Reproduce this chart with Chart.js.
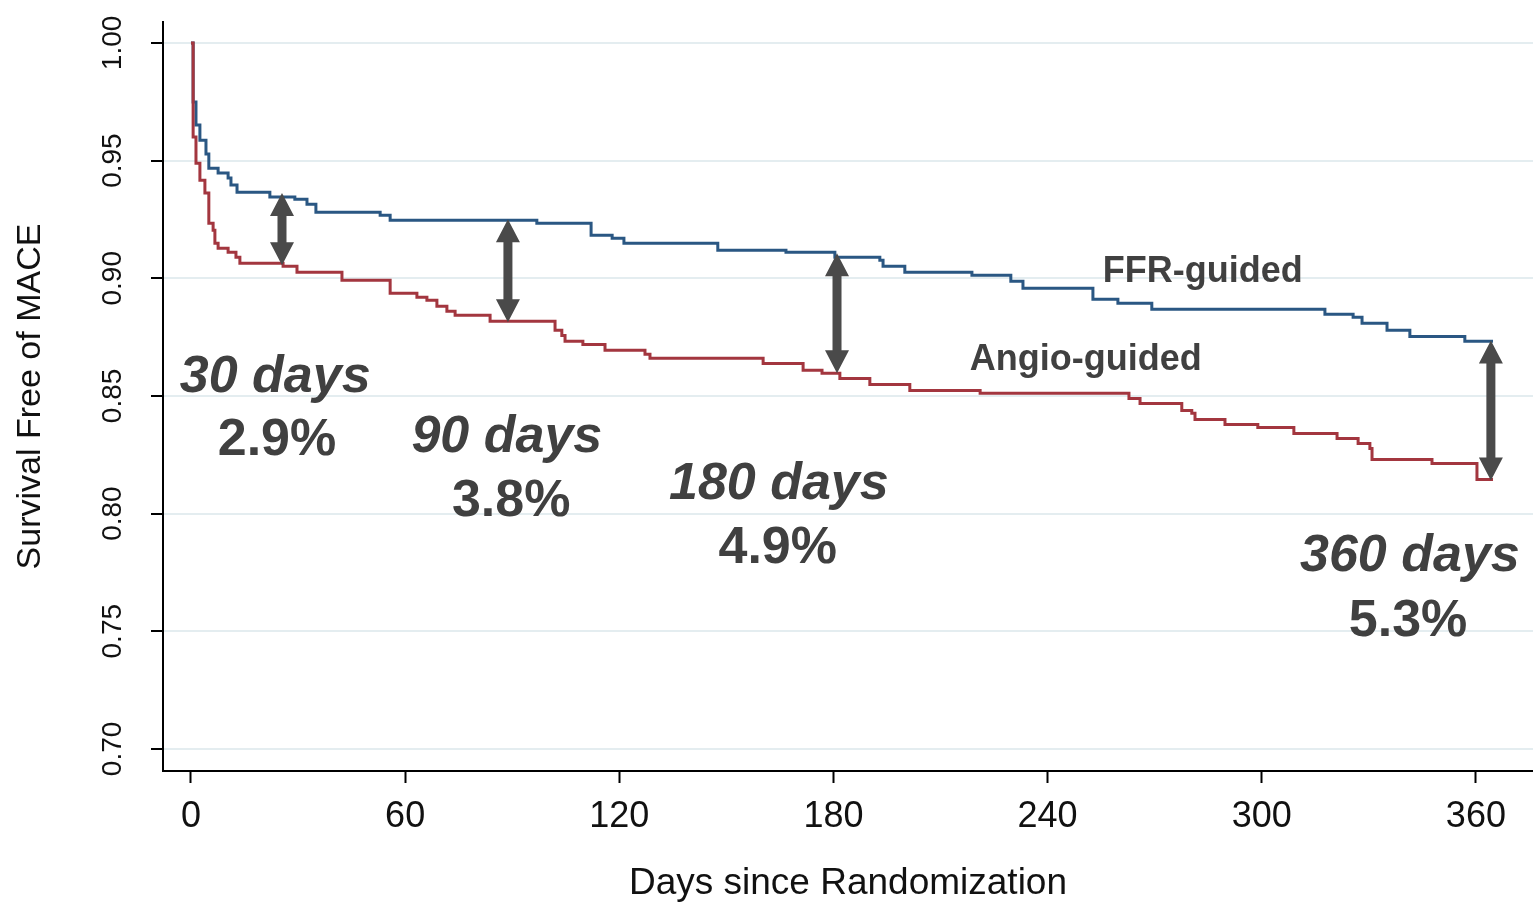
<!DOCTYPE html>
<html>
<head>
<meta charset="utf-8">
<title>Survival Free of MACE</title>
<script src="https://cdn.jsdelivr.net/npm/chart.js@4.4.1/dist/chart.umd.min.js"></script>
<style>
  html, body { margin: 0; padding: 0; background: #fff; }
  canvas { display: block; }
</style>
</head>
<body>
<canvas id="kmChart" width="1533" height="903"></canvas>
<script>
// === Data ===
const xTicks = [0, 60, 120, 180, 240, 300, 360];
const yTicks = [0.70, 0.75, 0.80, 0.85, 0.90, 0.95, 1.00];

// FFR-guided: day of each step, survival after the step
const ffrDays = [0, 0.6, 1.4, 2.5, 4.2, 5.0, 7.6, 10.4, 11.2, 12.9, 22.1, 29.1, 32.5, 35.0, 53.0, 55.8,
  96.9, 112.1, 118.0, 121.3, 147.6, 166.7, 180.4, 193.0, 193.9, 200.0, 218.8, 229.7, 233.1, 252.7,
  259.7, 269.2, 317.7, 325.6, 328.1, 335.1, 341.5, 356.9, 364.8];
const ffrSurv = [1.0000, 0.9749, 0.9651, 0.9587, 0.9528, 0.9468, 0.9447, 0.9426, 0.9396, 0.9366, 0.9345,
  0.9336, 0.9315, 0.9281, 0.9268, 0.9247, 0.9234, 0.9183, 0.9170, 0.9149, 0.9119, 0.9111, 0.9089,
  0.9077, 0.9051, 0.9026, 0.9013, 0.8987, 0.8957, 0.8911, 0.8894, 0.8868, 0.8847, 0.8834, 0.8809,
  0.8779, 0.8753, 0.8732, 0.8732];

// Angio-guided
const angioDays = [0, 0.6, 1.4, 2.5, 3.9, 5.0, 6.2, 6.7, 7.6, 10.4, 12.6, 13.7, 25.8, 29.7, 42.3, 55.8,
  63.3, 66.1, 68.9, 71.7, 74.0, 83.8, 102.0, 103.9, 104.8, 109.8, 116.0, 127.2, 128.6, 160.3, 171.5,
  176.8, 181.8, 190.2, 201.4, 221.1, 262.8, 265.9, 277.6, 280.4, 281.3, 289.7, 298.9, 309.0, 321.1,
  327.0, 330.3, 330.9, 347.7, 360.3, 364.8];
const angioSurv = [1.0000, 0.9600, 0.9489, 0.9417, 0.9362, 0.9234, 0.9204, 0.9149, 0.9128, 0.9111, 0.9089,
  0.9064, 0.9051, 0.9026, 0.8991, 0.8936, 0.8919, 0.8906, 0.8881, 0.8860, 0.8843, 0.8817, 0.8779,
  0.8757, 0.8732, 0.8719, 0.8694, 0.8677, 0.8660, 0.8638, 0.8609, 0.8596, 0.8574, 0.8549, 0.8523,
  0.8511, 0.8489, 0.8468, 0.8438, 0.8426, 0.8400, 0.8379, 0.8366, 0.8340, 0.8319, 0.8298, 0.8277,
  0.8230, 0.8213, 0.8145, 0.8145];

// Gap arrows between the curves
const gapDays = [25.5, 88.8, 181.0, 364.2];
const gapTop = [0.9362, 0.9251, 0.9106, 0.8736];
const gapBottom = [0.9055, 0.8813, 0.8596, 0.8140];
const gapLabels = ['30 days', '90 days', '180 days', '360 days'];
const gapValues = ['2.9%', '3.8%', '4.9%', '5.3%'];

// === Text placement (in axis units) ===
const notes = [
  { text: gapLabels[0], day: 23.6, surv: 0.8515, font: 'italic bold 52px' },
  { text: gapValues[0], day: 24.1, surv: 0.8247, font: 'bold 52px' },
  { text: gapLabels[1], day: 88.5, surv: 0.8260, font: 'italic bold 52px' },
  { text: gapValues[1], day: 89.7, surv: 0.7991, font: 'bold 52px' },
  { text: gapLabels[2], day: 164.7, surv: 0.8060, font: 'italic bold 52px' },
  { text: gapValues[2], day: 164.4, surv: 0.7791, font: 'bold 52px' },
  { text: gapLabels[3], day: 341.5, surv: 0.7757, font: 'italic bold 52px' },
  { text: gapValues[3], day: 341.0, surv: 0.7481, font: 'bold 52px' },
  { text: 'FFR-guided', day: 283.5, surv: 0.8983, font: 'bold 36px' },
  { text: 'Angio-guided', day: 250.7, surv: 0.8609, font: 'bold 36px' }
];

const FAMILY = '"Liberation Sans", Arial, sans-serif';

// Arrows + annotation text
const gapNotes = {
  id: 'gapNotes',
  afterDatasetsDraw(chart) {
    const { ctx, scales: { x, y } } = chart;
    ctx.save();
    ctx.fillStyle = '#4a4a4a';
    const head = 23, half = 12, shaft = 4.5;
    gapDays.forEach((d, i) => {
      const px = x.getPixelForValue(d);
      const top = y.getPixelForValue(gapTop[i]);
      const bot = y.getPixelForValue(gapBottom[i]);
      ctx.beginPath();
      ctx.moveTo(px, top);
      ctx.lineTo(px + half, top + head);
      ctx.lineTo(px + shaft, top + head);
      ctx.lineTo(px + shaft, bot - head);
      ctx.lineTo(px + half, bot - head);
      ctx.lineTo(px, bot);
      ctx.lineTo(px - half, bot - head);
      ctx.lineTo(px - shaft, bot - head);
      ctx.lineTo(px - shaft, top + head);
      ctx.lineTo(px - half, top + head);
      ctx.closePath();
      ctx.fill();
    });

    ctx.fillStyle = '#404040';
    ctx.textAlign = 'center';
    ctx.textBaseline = 'alphabetic';
    notes.forEach(n => {
      ctx.font = n.font + ' ' + FAMILY;
      ctx.fillText(n.text, x.getPixelForValue(n.day), y.getPixelForValue(n.surv));
    });
    ctx.restore();
  }
};

const toPoints = (days, surv) => days.map((d, i) => ({ x: d, y: surv[i] }));

const ctx = document.getElementById('kmChart').getContext('2d');
new Chart(ctx, {
  type: 'line',
  data: {
    datasets: [{
      label: 'FFR-guided',
      data: toPoints(ffrDays, ffrSurv),
      borderColor: '#2a5783',
      borderWidth: 3,
      stepped: 'before',
      pointRadius: 0,
      fill: false,
      order: 2
    }, {
      label: 'Angio-guided',
      data: toPoints(angioDays, angioSurv),
      borderColor: '#a3363f',
      borderWidth: 3,
      stepped: 'before',
      pointRadius: 0,
      fill: false,
      order: 1
    }]
  },
  options: {
    responsive: false,
    animation: false,
    layout: { padding: { top: 22, right: 0, bottom: 0, left: 0 } },
    plugins: { legend: { display: false }, tooltip: { enabled: false } },
    scales: {
      x: {
        type: 'linear',
        min: -7.84,
        max: 376,
        afterBuildTicks: s => { s.ticks = xTicks.map(v => ({ value: v })); },
        afterFit: s => { s.height = 132; s.paddingLeft = 0; s.paddingRight = 0; },
        grid: { drawOnChartArea: false, tickLength: 12, tickColor: '#000', tickWidth: 2 },
        border: { display: true, color: '#000', width: 2 },
        ticks: { font: { family: FAMILY, size: 36 }, color: '#111', padding: 12, maxRotation: 0, autoSkip: false },
        title: {
          display: true, text: 'Days since Randomization', color: '#111',
          font: { family: FAMILY, size: 37, lineHeight: 1 }, padding: { top: 0, bottom: 1 }
        }
      },
      y: {
        type: 'linear',
        min: 0.6906,
        max: 1.0089,
        afterBuildTicks: s => { s.ticks = yTicks.map(v => ({ value: v })); },
        afterFit: s => { s.width = 163; s.paddingTop = 0; s.paddingBottom = 0; },
        grid: { color: '#e4edf0', lineWidth: 2, tickLength: 12, tickColor: '#000', tickWidth: 2 },
        border: { display: true, color: '#000', width: 2 },
        ticks: {
          font: { family: FAMILY, size: 28 }, color: '#111', padding: 10,
          minRotation: 90, maxRotation: 90, crossAlign: 'center',
          callback: v => v.toFixed(2)
        },
        title: {
          display: true, text: 'Survival Free of MACE', color: '#111',
          font: { family: FAMILY, size: 34 }, padding: { top: 10, bottom: 0 }
        }
      }
    }
  },
  plugins: [gapNotes]
});
</script>
</body>
</html>
